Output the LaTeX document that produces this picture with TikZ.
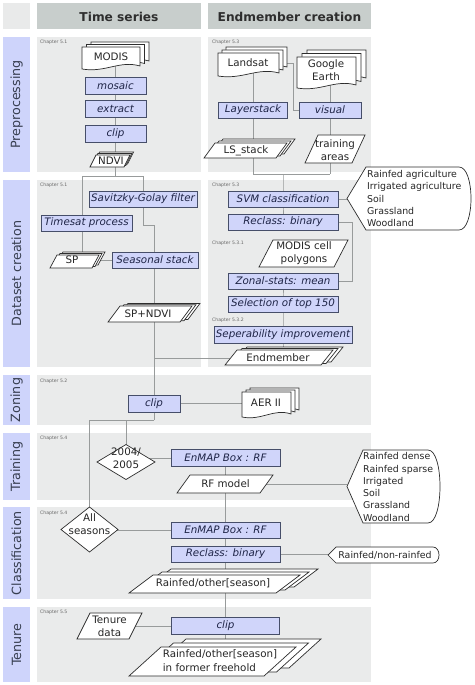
\documentclass[tikz,border=0pt]{standalone}
\usepackage{fontspec}
\setmainfont{DejaVu Sans}
\usetikzlibrary{calc}
\definecolor{boxfill}{RGB}{208,213,250}
\definecolor{boxline}{RGB}{70,78,105}
\definecolor{boxtext}{RGB}{30,36,70}
\definecolor{panelgray}{RGB}{234,235,235}
\definecolor{headgray}{RGB}{200,206,204}
\definecolor{cornergray}{RGB}{233,234,234}
\definecolor{labelfill}{RGB}{206,212,251}
\definecolor{labeltext}{RGB}{55,62,80}
\definecolor{conncol}{RGB}{152,155,155}
\definecolor{outl}{RGB}{45,45,45}
\pgfdeclarelayer{panels}
\pgfdeclarelayer{links}
\pgfsetlayers{panels,links,main}
\tikzset{
  proc/.style={draw=boxline, fill=boxfill, line width=0.7pt, text=boxtext,
    font=\fontsize{10.3}{12}\selectfont\itshape, inner sep=0pt},
  shp/.style={draw=outl, fill=white, line width=0.7pt},
  txt/.style={text=black!85, font=\fontsize{10.3}{13}\selectfont, align=center, inner sep=0pt},
  disptxt/.style={text=black!85, font=\fontsize{9.4}{12.3}\selectfont, align=left, inner sep=0pt},
  conn/.style={draw=conncol, line width=0.8pt},
  rowlabel/.style={rotate=90, text=labeltext, font=\fontsize{12.7}{14}\selectfont, inner sep=0pt},
  head/.style={text=black!82, font=\fontsize{12.2}{14}\selectfont\bfseries, inner sep=0pt},
  chap/.style={anchor=west, text=black!60, font=\fontsize{4.6}{5.5}\selectfont, inner sep=0pt}
}
\newcommand\docshape[4]{%
  \filldraw[shp] (#1,#2) -- (#3,#2) -- (#3,{#4-3}) .. controls ({#3-0.35*(#3-#1)},{#4-9}) and ({#1+0.4*(#3-#1)},{#4+4}) .. (#1,#4) -- cycle;}
\newcommand\docstack[6]{%
  \begin{scope}[shift={({2*(#5)},{2*(#6)})}]\docshape{#1}{#2}{#3}{#4}\end{scope}%
  \begin{scope}[shift={(#5,#6)}]\docshape{#1}{#2}{#3}{#4}\end{scope}%
  \docshape{#1}{#2}{#3}{#4}}
\newcommand\parashape[5]{%
  \filldraw[shp] (#1,#4) -- ({#1+#5},#2) -- (#3,#2) -- ({#3-#5},#4) -- cycle;}
\newcommand\parastack[7]{%
  \begin{scope}[shift={({2*(#6)},{2*(#7)})}]\parashape{#1}{#2}{#3}{#4}{#5}\end{scope}%
  \begin{scope}[shift={(#6,#7)}]\parashape{#1}{#2}{#3}{#4}{#5}\end{scope}%
  \parashape{#1}{#2}{#3}{#4}{#5}}
\newcommand\dispshape[6]{%
  \filldraw[shp] (#1,{((#2)+(#4))/2}) -- ({#1+#5},#2) -- ({#3-#6},#2) .. controls ({#3+0.333*(#6)},#2) and ({#3+0.333*(#6)},#4) .. ({#3-#6},#4) -- ({#1+#5},#4) -- cycle;}
\newcommand\diashape[4]{%
  \filldraw[shp] ({#1-#3},#2) -- (#1,{#2-#4}) -- ({#1+#3},#2) -- (#1,{#2+#4}) -- cycle;}
\begin{document}
\begin{tikzpicture}[x=1pt,y=-1pt]
\useasboundingbox (0,0) rectangle (474,685);
\begin{pgfonlayer}{panels}
  \fill[cornergray] (3,3) rectangle (30,29);
  \fill[headgray] (37,3) rectangle (201,29);
  \fill[headgray] (208,3) rectangle (371,29);
  \fill[labelfill] (3,37) rectangle (30,172);
  \fill[labelfill] (3,180) rectangle (30,367);
  \fill[labelfill] (3,375) rectangle (30,425);
  \fill[labelfill] (3,433) rectangle (30,500);
  \fill[labelfill] (3,507) rectangle (30,599);
  \fill[labelfill] (3,607) rectangle (30,682);
  \fill[panelgray] (37,37) rectangle (201,172);
  \fill[panelgray] (208,37) rectangle (371,172);
  \fill[panelgray] (37,180) rectangle (201,367);
  \fill[panelgray] (208,180) rectangle (371,367);
  \fill[panelgray] (37,375) rectangle (371,425);
  \fill[panelgray] (37,433) rectangle (371,500);
  \fill[panelgray] (37,507) rectangle (371,599);
  \fill[panelgray] (37,607) rectangle (371,682);
\end{pgfonlayer}
% headers and row labels
\node[head] (hts) at (119,16.5) {Time series};
\node[head] (hem) at (289.5,16.5) {Endmember creation};
\node[rowlabel] (lpre) at (16.5,104.5) {Preprocessing};
\node[rowlabel] (ldat) at (16.5,273.5) {Dataset creation};
\node[rowlabel] (lzon) at (16.5,400) {Zoning};
\node[rowlabel] (ltra) at (16.5,466.5) {Training};
\node[rowlabel] (lcla) at (16.5,553) {Classification};
\node[rowlabel] (lten) at (16.5,644.5) {Tenure};
% chapter labels
\node[chap] (ch1) at (40,42) {Chapter 5.1};
\node[chap] (ch2) at (212,42) {Chapter 5.3};
\node[chap] (ch3) at (40,185) {Chapter 5.1};
\node[chap] (ch4) at (212,185) {Chapter 5.3};
\node[chap] (ch5) at (212,243) {Chapter 5.3.1};
\node[chap] (ch6) at (212,320) {Chapter 5.3.2};
\node[chap] (ch7) at (40,381) {Chapter 5.2};
\node[chap] (ch8) at (40,438) {Chapter 5.4};
\node[chap] (ch9) at (40,513) {Chapter 5.4};
\node[chap] (ch10) at (40,612) {Chapter 5.5};
% time series preprocessing
\docstack{82}{47}{140}{69}{4.5}{-2.5}
\node[txt] (modis) at (111,57) {MODIS};
\node[proc, minimum width=61pt, minimum height=17pt] (mosaic) at (115.5,86) {mosaic};
\node[proc, minimum width=61pt, minimum height=17pt] (extract) at (115.5,109) {extract};
\node[proc, minimum width=61pt, minimum height=17pt] (clip1) at (115.5,133.5) {clip};
\parastack{90}{155}{130}{167}{6}{1.8}{-1.5}
\node[txt] (ndvi) at (111,161) {NDVI};
% endmember preprocessing
\docstack{218}{53}{279}{76}{4}{-3}
\node[txt] (landsat) at (248,63) {Landsat};
\docstack{297}{57}{356}{88}{5}{-3.5}
\node[txt] (google) at (326,70.5) {Google\\Earth};
\node[proc, minimum width=69pt, minimum height=16pt] (layer) at (253,110) {Layerstack};
\node[proc, minimum width=62pt, minimum height=16pt] (visual) at (330,110) {visual};
\parastack{204}{143}{287}{158}{11}{4}{-2}
\node[txt] (ls) at (246,151) {LS\_stack};
\parashape{305}{135}{365}{163}{13}
\node[txt] (train) at (335,150) {training\\areas};
% time series dataset creation
\node[proc, minimum width=108pt, minimum height=16pt] (sg) at (143,199) {Savitzky-Golay filter};
\node[proc, minimum width=91pt, minimum height=16pt] (timesat) at (86.5,223) {Timesat process};
\parastack{50}{255}{99}{268}{7}{3}{-1.5}
\node[txt] (sp) at (72,260) {SP};
\node[proc, minimum width=86pt, minimum height=16pt] (seas) at (155,260) {Seasonal stack};
\parastack{108}{306}{192}{322}{12}{4}{-1.3}
\node[txt] (spndvi) at (148,313.5) {SP+NDVI};
% endmember dataset creation
\node[proc, minimum width=110pt, minimum height=16pt] (svm) at (283,199) {SVM classification};
\dispshape{347}{167}{471}{230}{19}{12}
\node[disptxt, anchor=west] (disp1) at (367,198.5) {Rainfed agriculture\\Irrigated agriculture\\Soil\\Grassland\\Woodland};
\node[proc, minimum width=110pt, minimum height=16pt] (reclass1) at (283,222) {Reclass: binary};
\parashape{259}{240}{348}{267}{14}
\node[txt] (cells) at (304,253.5) {MODIS cell\\polygons};
\node[proc, minimum width=110pt, minimum height=16pt] (zonal) at (283,281) {Zonal-stats: mean};
\node[proc, minimum width=110pt, minimum height=16pt] (sel) at (283,304) {Selection of top 150};
\node[proc, minimum width=138pt, minimum height=17pt] (sep) at (283,334.5) {Seperability improvement};
\parastack{225}{350}{333}{365}{12}{5}{-1.5}
\node[txt] (endm) at (278,358) {Endmember};
% zoning
\node[proc, minimum width=52pt, minimum height=17pt] (clip2) at (154,403.5) {clip};
\docstack{242}{392}{291}{417}{4}{-2}
\node[txt] (aer) at (266,403) {AER II};
% training
\diashape{126}{462}{29}{17.5}
\node[txt, font=\fontsize{10.3}{12.5}\selectfont] (dia1) at (126,458) {2004/\\2005};
\node[proc, minimum width=109pt, minimum height=17pt] (enmap1) at (225.5,458) {EnMAP Box : RF};
\parashape{177}{475}{273}{493}{13}
\node[txt] (rf) at (225.5,484) {RF model};
\dispshape{347}{450}{440}{523}{16}{12}
\node[disptxt, anchor=west] (disp2) at (363,487) {Rainfed dense\\Rainfed sparse\\Irrigated\\Soil\\Grassland\\Woodland};
% classification
\diashape{89.5}{529.5}{28.5}{22.5}
\node[txt] (dia2) at (89.5,524.5) {All\\seasons};
\node[proc, minimum width=109pt, minimum height=16pt] (enmap2) at (225.5,530) {EnMAP Box : RF};
\node[proc, minimum width=109pt, minimum height=16pt] (reclass2) at (225.5,554) {Reclass: binary};
\dispshape{328}{547}{439}{563}{8}{6}
\node[disptxt] (disp3) at (385,555) {Rainfed/non-rainfed};
\parastack{129}{575}{300}{593}{24}{9}{-3}
\node[txt] (cstack) at (213,583) {Rainfed/other[season]};
% tenure
\parashape{77}{613}{142}{639}{13}
\node[txt] (tdata) at (109.5,626) {Tenure\\data};
\node[proc, minimum width=108pt, minimum height=17pt] (clip3) at (225.5,625.5) {clip};
\parastack{129}{647}{296}{676}{32}{12.5}{-4}
\node[txt, align=left, font=\fontsize{10.3}{14}\selectfont] (tstack) at (220,661) {Rainfed/other[season]\\in former freehold};
% connectors
\begin{pgfonlayer}{links}
  \coordinate (nj) at (115.5,176);
  \coordinate (ta) at (82,176);
  \coordinate (tb) at (143,176);
  \coordinate (tc) at (143,225);
  \coordinate (td) at (154,225);
  \coordinate (lj) at (253,174);
  \coordinate (rj) at (330,174);
  \coordinate (sj) at (283,174);
  \coordinate (ej) at (154,358);
  \coordinate (zj) at (154,420);
  \coordinate (za) at (89.5,420);
  \coordinate (zb) at (126,420);
  \coordinate (rl) at (352,222);
  \coordinate (lvx) at (293,63);
  \draw[conn] (mosaic.center |- modis.center) -- (mosaic.center) -- (extract.center) -- (clip1.center) -- (nj);
  \draw[conn] (ta) -- (tb);
  \draw[conn] (ta) -- (ta |- sp.center);
  \draw[conn] (tb) -- (tc) -- (td) -- (td |- spndvi.center);
  \draw[conn] (sp.center) -- (seas.center);
  \draw[conn] (td |- spndvi.center) -- (zj);
  \draw[conn] (zj) -- (za) -- (za |- dia2.center);
  \draw[conn] (zb) -- (zb |- dia1.center);
  \draw[conn] (endm.center) -- (ej);
  \draw[conn] (clip2.center) -- (clip2.center -| aer.center);
  \draw[conn] (layer.center |- landsat.center) -- (lj);
  \draw[conn] (visual.center |- google.center) -- (rj);
  \draw[conn] (lj) -- (rj);
  \draw[conn] (landsat.center) -- (lvx) |- (visual.center);
  \draw[conn] (sj) -- (svm.center) -- (reclass1.center);
  \draw[conn] (svm.center) -- (svm.center -| disp1.center);
  \draw[conn] (reclass1.center) -- (rl) |- (zonal.center);
  \draw[conn] (zonal.center) -- (sel.center) -- (sep.center) -- (sep.center |- endm.center);
  \draw[conn] (enmap1.center) -- (enmap1.center -| dia1.center);
  \draw[conn] (enmap1.center) -- (rf.center) -- (enmap2.center) -- (reclass2.center) -- (clip3.center) -- (clip3.center |- tstack.center);
  \draw[conn] (rf.center) -- (rf.center -| disp2.center);
  \draw[conn] (enmap2.center) -- (enmap2.center -| dia2.center);
  \draw[conn] (reclass2.center) -- (reclass2.center -| disp3.center);
  \draw[conn] (tdata.center) -- (tdata.center -| clip3.center);
\end{pgfonlayer}
\end{tikzpicture}
\end{document}
